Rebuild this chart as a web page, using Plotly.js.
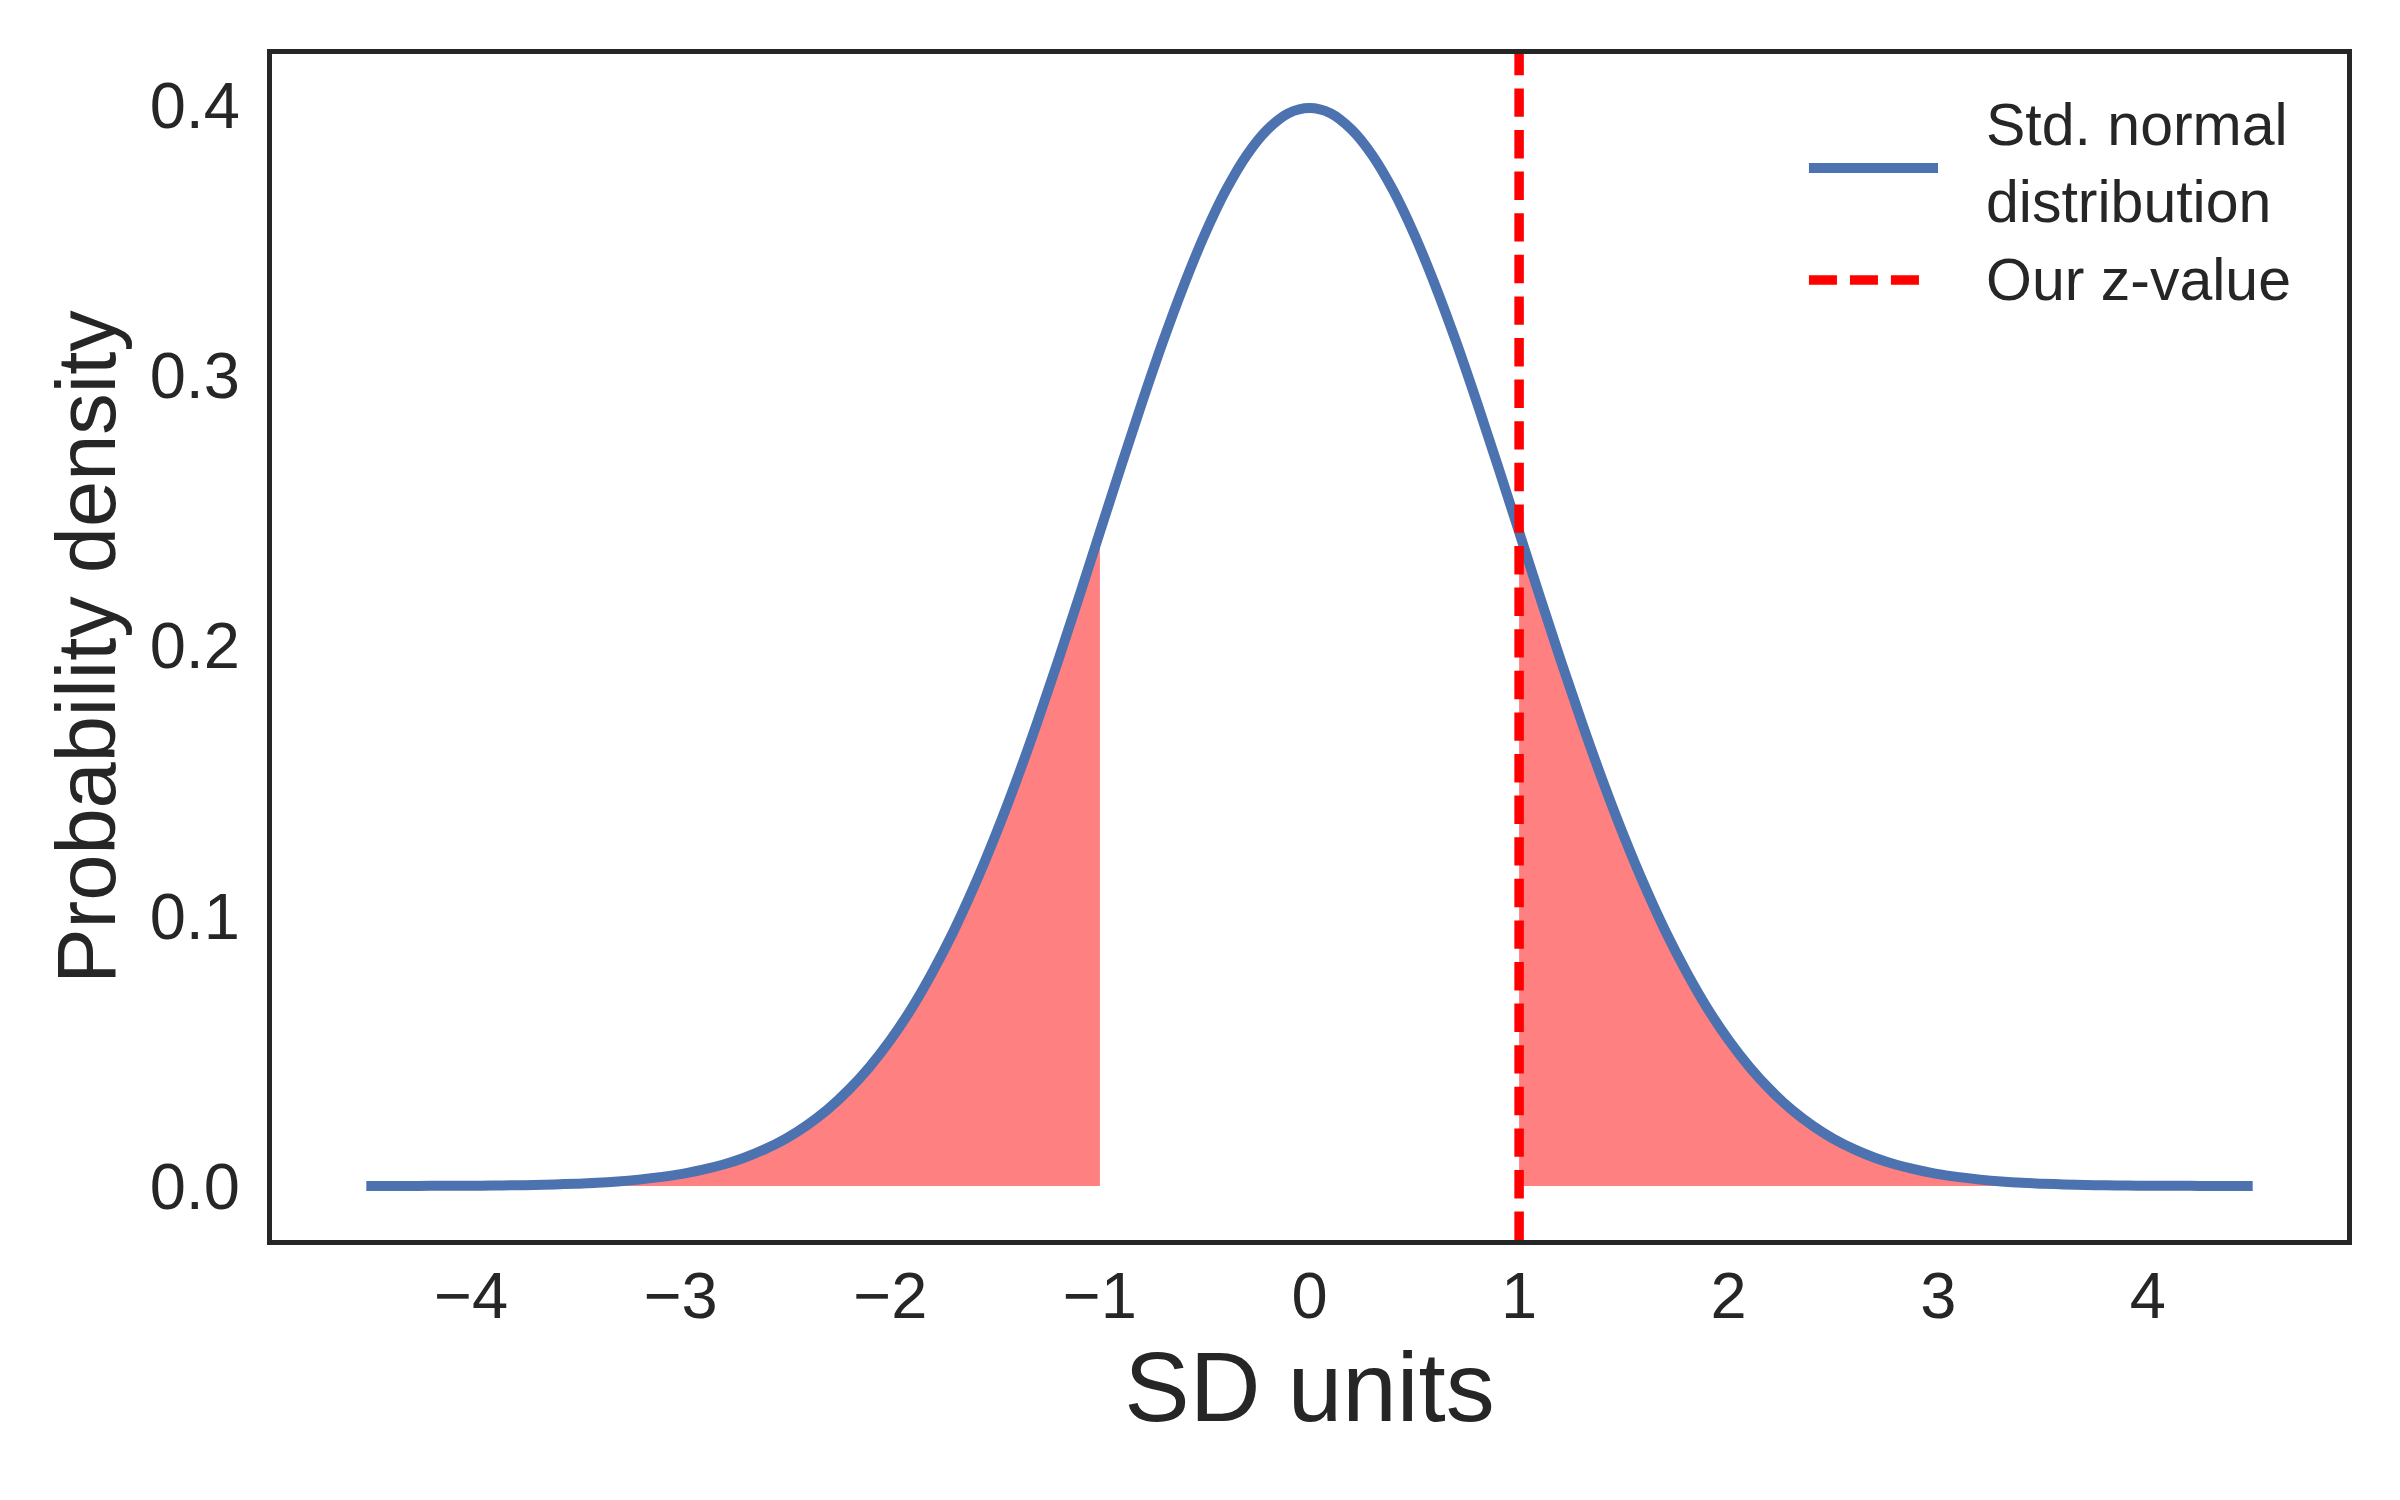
<!DOCTYPE html>
<html>
<head>
<meta charset="utf-8">
<script src="https://cdn.plot.ly/plotly-3.0.1.min.js"></script>
<style>html,body{margin:0;padding:0;background:#fff;}</style>
</head>
<body>
<div id="chart" style="width:2400px;height:1500px;"></div>
<script>
// --- data ---
const xValues = [
  -4.5, -4.4, -4.3, -4.2, -4.1, -4.0, -3.9, -3.8, -3.7, -3.6, -3.5, -3.4, -3.3, -3.2, -3.1,
  -3.0, -2.9, -2.8, -2.7, -2.6, -2.5, -2.4, -2.3, -2.2, -2.1, -2.0, -1.9, -1.8, -1.7, -1.6,
  -1.5, -1.4, -1.3, -1.2, -1.1, -1.0, -0.9, -0.8, -0.7, -0.6, -0.5, -0.4, -0.3, -0.2, -0.1,
  0.0,
  0.1, 0.2, 0.3, 0.4, 0.5, 0.6, 0.7, 0.8, 0.9, 1.0, 1.1, 1.2, 1.3, 1.4, 1.5,
  1.6, 1.7, 1.8, 1.9, 2.0, 2.1, 2.2, 2.3, 2.4, 2.5, 2.6, 2.7, 2.8, 2.9, 3.0,
  3.1, 3.2, 3.3, 3.4, 3.5, 3.6, 3.7, 3.8, 3.9, 4.0, 4.1, 4.2, 4.3, 4.4, 4.5
];
const density = [
  0.0000, 0.0000, 0.0000, 0.0001, 0.0001, 0.0001, 0.0002, 0.0003, 0.0004, 0.0006, 0.0009, 0.0012, 0.0017, 0.0024, 0.0033,
  0.0044, 0.0060, 0.0079, 0.0104, 0.0136, 0.0175, 0.0224, 0.0283, 0.0355, 0.0440, 0.0540, 0.0656, 0.0790, 0.0940, 0.1109,
  0.1295, 0.1497, 0.1714, 0.1942, 0.2179, 0.2420, 0.2661, 0.2897, 0.3123, 0.3332, 0.3521, 0.3683, 0.3814, 0.3910, 0.3970,
  0.3989,
  0.3970, 0.3910, 0.3814, 0.3683, 0.3521, 0.3332, 0.3123, 0.2897, 0.2661, 0.2420, 0.2179, 0.1942, 0.1714, 0.1497, 0.1295,
  0.1109, 0.0940, 0.0790, 0.0656, 0.0540, 0.0440, 0.0355, 0.0283, 0.0224, 0.0175, 0.0136, 0.0104, 0.0079, 0.0060, 0.0044,
  0.0033, 0.0024, 0.0017, 0.0012, 0.0009, 0.0006, 0.0004, 0.0003, 0.0002, 0.0001, 0.0001, 0.0001, 0.0000, 0.0000, 0.0000
];
const zValue = 1.0;
const lowerCut = -1.0;
const xTickVals = [-4, -3, -2, -1, 0, 1, 2, 3, 4];
const xTickText = ["\u22124", "\u22123", "\u22122", "\u22121", "0", "1", "2", "3", "4"];
const yTickVals = [0.0, 0.1, 0.2, 0.3, 0.4];
const yTickText = ["0.0", "0.1", "0.2", "0.3", "0.4"];
const seriesNames = ["Std. normal<br>distribution", "Our z-value"];

const FONT = "Liberation Sans, Arial, Helvetica, sans-serif";
const INK = "#262626";

const leftX = [], leftY = [], rightX = [], rightY = [];
xValues.forEach((x, i) => {
  if (x <= lowerCut + 1e-9) { leftX.push(x); leftY.push(density[i]); }
  if (x >= zValue - 1e-9) { rightX.push(x); rightY.push(density[i]); }
});

const fillStyle = {type: "scatter", mode: "lines", fill: "tozeroy", fillcolor: "#ff8080",
  line: {width: 0, color: "#ff8080", shape: "spline", simplify: false}, hoverinfo: "skip", showlegend: false};

const traces = [
  Object.assign({x: leftX, y: leftY}, fillStyle),
  Object.assign({x: rightX, y: rightY}, fillStyle),
  {type: "scatter", mode: "lines", x: xValues, y: density, name: "Std. normal distribution",
   line: {color: "#4c72b0", width: 10, shape: "spline", simplify: false}, showlegend: false}
];

const axisCommon = {showline: true, mirror: true, linewidth: 5, linecolor: INK,
  showgrid: false, zeroline: false, ticks: "", tickfont: {family: FONT, size: 65, color: INK}};

const layout = {
  width: 2400, height: 1500,
  margin: {l: 272, r: 53, t: 54, b: 260, pad: 0},
  paper_bgcolor: "#ffffff", plot_bgcolor: "#ffffff",
  font: {family: FONT, color: INK},
  xaxis: Object.assign({}, axisCommon, {
    range: [-4.95, 4.95], tickvals: xTickVals, ticktext: xTickText, ticklabelstandoff: -5,
    title: {text: "SD units", font: {family: FONT, size: 98, color: INK}, standoff: 0}
  }),
  yaxis: Object.assign({}, axisCommon, {
    range: [-0.01995, 0.41888], tickvals: yTickVals, ticktext: yTickText, ticklabelstandoff: 14,
    title: {text: "Probability density", font: {family: FONT, size: 83, color: INK}, standoff: 8}
  }),
  shapes: [
    {type: "line", xref: "x", yref: "paper", x0: zValue, x1: zValue, y0: 0, y1: 1,
     line: {color: "#ff0000", width: 9.5, dash: "28.4px,13.2px"}, layer: "above"},
    // legend handles
    {type: "line", xref: "paper", yref: "paper", x0: 0.7407, x1: 0.8029, y0: 0.9039, y1: 0.9039,
     line: {color: "#4c72b0", width: 10}},
    {type: "line", xref: "paper", yref: "paper", x0: 0.7407, x1: 0.7990, y0: 0.8094, y1: 0.8094,
     line: {color: "#ff0000", width: 9.5, dash: "28px,13px"}}
  ],
  annotations: [
    {xref: "paper", yref: "paper", x: 0.8251, y: 0.9077, xanchor: "left", yanchor: "middle", align: "left",
     text: seriesNames[0], showarrow: false, font: {family: FONT, size: 59, color: INK}},
    {xref: "paper", yref: "paper", x: 0.8251, y: 0.8094, xanchor: "left", yanchor: "middle", align: "left",
     text: seriesNames[1], showarrow: false, font: {family: FONT, size: 59, color: INK}}
  ],
  showlegend: false
};

Plotly.newPlot("chart", traces, layout, {staticPlot: true, displayModeBar: false});
</script>
</body>
</html>
